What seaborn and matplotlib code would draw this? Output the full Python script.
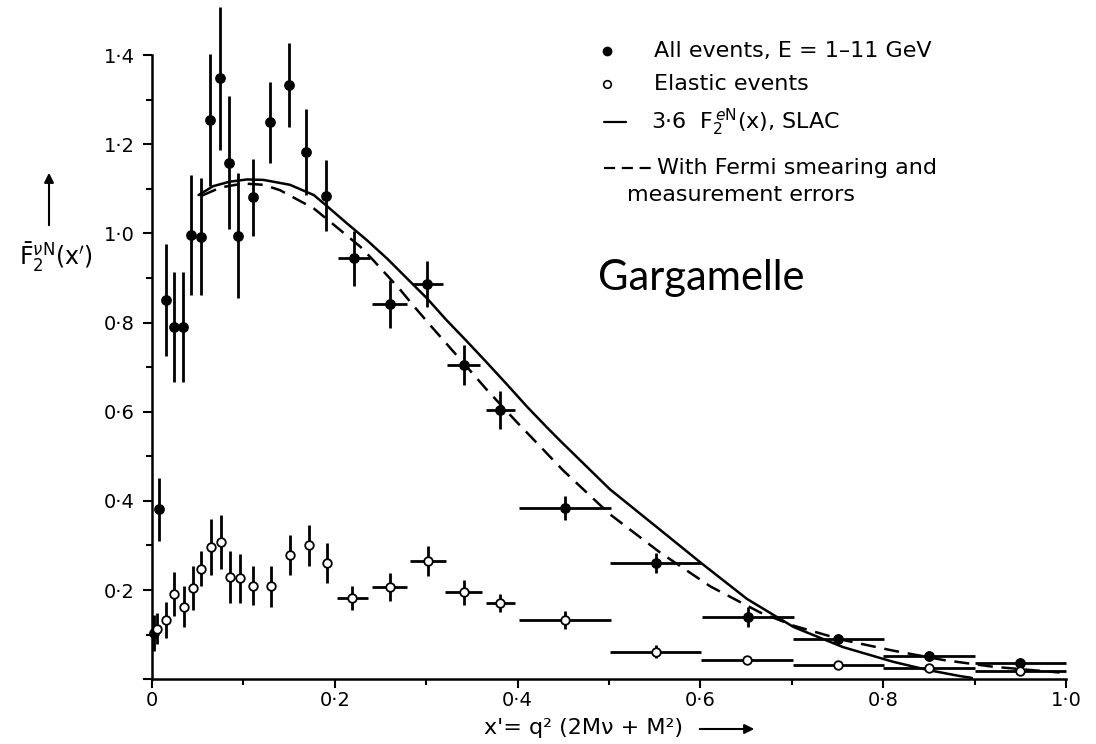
import numpy as np
import pandas as pd
import matplotlib
matplotlib.use("Agg")
import matplotlib.pyplot as plt
import seaborn as sns

# ---------------- data ----------------
# All events (filled circles)
x_all = [0.002, 0.008, 0.015, 0.024, 0.034, 0.043, 0.054, 0.064, 0.074, 0.084,
         0.094, 0.110, 0.129, 0.150, 0.169, 0.190, 0.221, 0.260, 0.301, 0.341,
         0.381, 0.452, 0.551, 0.652, 0.751, 0.850, 0.950]
y_all = [0.103, 0.381, 0.851, 0.790, 0.790, 0.996, 0.993, 1.255, 1.348, 1.159,
         0.995, 1.081, 1.249, 1.333, 1.183, 1.085, 0.944, 0.841, 0.886, 0.705,
         0.604, 0.383, 0.261, 0.139, 0.090, 0.052, 0.037]
yerr_all = [0.04, 0.07, 0.125, 0.124, 0.124, 0.135, 0.131, 0.148, 0.16, 0.15,
            0.14, 0.086, 0.09, 0.094, 0.096, 0.08, 0.062, 0.054, 0.052, 0.045,
            0.043, 0.027, 0.022, 0.022, 0.012, 0.012, 0.01]
xerr_all = [0, 0, 0, 0, 0, 0, 0, 0, 0, 0,
            0, 0, 0, 0, 0, 0, 0.017, 0.019, 0.017, 0.018,
            0.016, 0.05, 0.05, 0.05, 0.05, 0.05, 0.05]

# Elastic events (open circles)
x_el = [0.005, 0.015, 0.024, 0.035, 0.045, 0.054, 0.065, 0.075, 0.085, 0.096,
        0.110, 0.130, 0.151, 0.172, 0.192, 0.219, 0.260, 0.302, 0.341, 0.381,
        0.452, 0.551, 0.651, 0.751, 0.850, 0.950]
y_el = [0.113, 0.133, 0.191, 0.163, 0.205, 0.248, 0.296, 0.308, 0.230, 0.226,
        0.210, 0.208, 0.279, 0.300, 0.261, 0.183, 0.207, 0.265, 0.195, 0.170,
        0.133, 0.062, 0.043, 0.032, 0.026, 0.019]
yerr_el = [0.035, 0.04, 0.05, 0.047, 0.05, 0.04, 0.063, 0.06, 0.058, 0.055,
           0.043, 0.045, 0.045, 0.045, 0.045, 0.027, 0.031, 0.033, 0.028, 0.02,
           0.02, 0.015, 0.0, 0.0, 0.0, 0.0]
xerr_el = [0, 0, 0, 0, 0, 0, 0, 0, 0, 0,
           0, 0, 0, 0, 0, 0.017, 0.019, 0.02, 0.02, 0.016,
           0.05, 0.05, 0.05, 0.05, 0.05, 0.05]

# 3.6 F2eN(x), SLAC (solid curve)
x_slac = [0.051, 0.067, 0.085, 0.104, 0.122, 0.151, 0.177, 0.191, 0.213, 0.235,
          0.257, 0.279, 0.301, 0.322, 0.344, 0.366, 0.388, 0.410, 0.432, 0.447,
          0.501, 0.556, 0.600, 0.651, 0.702, 0.756, 0.811, 0.848, 0.884, 0.897]
y_slac = [1.086, 1.106, 1.116, 1.121, 1.120, 1.109, 1.086, 1.062, 1.023, 0.985,
          0.944, 0.899, 0.854, 0.806, 0.759, 0.711, 0.662, 0.612, 0.565, 0.534,
          0.426, 0.335, 0.262, 0.180, 0.117, 0.072, 0.039, 0.021, 0.007, 0.003]

# With Fermi smearing and measurement errors (dashed curve)
x_fermi = [0.055, 0.075, 0.100, 0.122, 0.140, 0.177, 0.195, 0.228, 0.242, 0.271,
           0.286, 0.304, 0.322, 0.352, 0.366, 0.399, 0.414, 0.450, 0.501, 0.556,
           0.611, 0.665, 0.702, 0.756, 0.811, 0.866, 0.920, 0.993]
y_fermi = [1.085, 1.103, 1.112, 1.109, 1.097, 1.056, 1.026, 0.970, 0.940, 0.875,
           0.838, 0.795, 0.753, 0.683, 0.650, 0.577, 0.545, 0.468, 0.370, 0.284,
           0.208, 0.150, 0.120, 0.088, 0.064, 0.043, 0.028, 0.015]

x_ticks = [0.0, 0.2, 0.4, 0.6, 0.8, 1.0]
x_ticklabels = ["0", "0·2", "0·4", "0·6", "0·8", "1·0"]
y_ticks = [0.0, 0.2, 0.4, 0.6, 0.8, 1.0, 1.2, 1.4]
y_ticklabels = ["", "0·2", "0·4", "0·6", "0·8", "1·0", "1·2", "1·4"]

legend_labels = ["All events, E = 1–11 GeV", "Elastic events",
                 r"3·6  $\mathrm{F}_2^{\,e\mathrm{N}}$(x), SLAC",
                 "With Fermi smearing and", "measurement errors"]

# ---------------- style ----------------
sns.set_theme(style="ticks", rc={
    "axes.edgecolor": "black", "text.color": "black", "xtick.color": "black",
    "ytick.color": "black", "axes.labelcolor": "black"})
plt.rcParams["font.family"] = ["DejaVu Sans"]

W, H = 1096, 744
fig = plt.figure(figsize=(W / 100, H / 100), dpi=100)
ax = fig.add_axes([152 / W, (H - 679.2) / H, 914 / W, 1.52 * 445.8 / H])
ax.set_xlim(0, 1.0)
ax.set_ylim(0, 1.52)

# error bars
ax.errorbar(x_all, y_all, yerr=yerr_all, xerr=xerr_all, fmt="none",
            ecolor="black", elinewidth=2.0, capsize=0, zorder=2, clip_on=False)
ax.errorbar(x_el, y_el, yerr=yerr_el, xerr=xerr_el, fmt="none",
            ecolor="black", elinewidth=2.0, capsize=0, zorder=2, clip_on=False)

# curves
sns.lineplot(x=x_slac, y=y_slac, ax=ax, color="black", lw=1.8,
             estimator=None, sort=False, zorder=3)
sns.lineplot(x=x_fermi, y=y_fermi, ax=ax, color="black", lw=1.8,
             estimator=None, sort=False, zorder=3)
ax.lines[-1].set_dashes((6, 3.5))
for ln in ax.lines[-2:]:
    ln.set_solid_joinstyle("round")

# points
df_all = pd.DataFrame({"x": x_all, "y": y_all})
df_el = pd.DataFrame({"x": x_el, "y": y_el})
sns.scatterplot(data=df_all, x="x", y="y", ax=ax, color="black", s=60,
                edgecolor="black", linewidth=0, zorder=5, clip_on=False)
sns.scatterplot(data=df_el, x="x", y="y", ax=ax, color="white", s=38,
                edgecolor="black", linewidth=1.3, zorder=5, clip_on=False)

# axes
ax.set_xlabel("")
ax.set_ylabel("")
sns.despine(ax=ax)
ax.spines["left"].set_bounds(0, 1.4)
ax.spines["bottom"].set_bounds(0, 1.0)
ax.spines["left"].set_linewidth(1.8)
ax.spines["bottom"].set_linewidth(1.8)
ax.set_xticks(x_ticks)
ax.set_xticklabels(x_ticklabels)
ax.set_yticks(y_ticks)
ax.set_yticklabels(y_ticklabels)
ax.set_xticks(np.arange(0.1, 1.0, 0.2), minor=True)
ax.set_yticks(np.arange(0.1, 1.4, 0.2), minor=True)
ax.tick_params(which="major", direction="out", length=6.5, width=1.5, labelsize=14)
ax.tick_params(which="minor", direction="out", length=4.5, width=1.5)
ax.tick_params(axis="x", pad=2)
ax.tick_params(axis="y", pad=6)

# legend (hand-drawn, as in the original)
lx_sym, lx_txt = 0.498, 0.549
ax.plot([lx_sym], [1.41], "o", color="black", ms=6, clip_on=False)
ax.plot([lx_sym], [1.335], "o", mfc="white", mec="black", mew=1.2, ms=5.5, clip_on=False)
ax.plot([0.495, 0.519], [1.249, 1.249], color="black", lw=1.6, clip_on=False)
ax.plot([0.495, 0.546], [1.146, 1.146], color="black", lw=1.6, dashes=(5, 3), clip_on=False)
rows_y = [1.41, 1.335, 1.249, 1.146, 1.087]
rows_x = [lx_txt, lx_txt, lx_txt - 0.003, lx_txt + 0.003, 0.52]
for lab, lxx, lyy in zip(legend_labels, rows_x, rows_y):
    ax.text(lxx, lyy, lab, fontsize=16, va="center", ha="left")

ax.text(0.488, 0.873, "Gargamelle", fontsize=30, family=["Lato", "DejaVu Sans"],
        va="baseline", ha="left")

# axis labels
fig.text(56 / W, 1 - 257 / H, r"$\bar{\mathrm{F}}_2^{\nu\mathrm{N}}(\mathrm{x}')$",
         fontsize=17, ha="center", va="center")
fig.add_artist(matplotlib.patches.FancyArrowPatch(
    (49 / W, 1 - 228 / H), (49 / W, 1 - 170 / H), transform=fig.transFigure,
    arrowstyle="-|>", mutation_scale=14, color="black", lw=1.5))
fig.text(584 / W, 1 - 728 / H, "x'= q² (2Mν + M²)", fontsize=16,
         ha="center", va="center")
fig.add_artist(matplotlib.patches.FancyArrowPatch(
    (697 / W, 1 - 729 / H), (757 / W, 1 - 729 / H), transform=fig.transFigure,
    arrowstyle="-|>", mutation_scale=14, color="black", lw=1.5))

fig.savefig("out.png", dpi=100)
